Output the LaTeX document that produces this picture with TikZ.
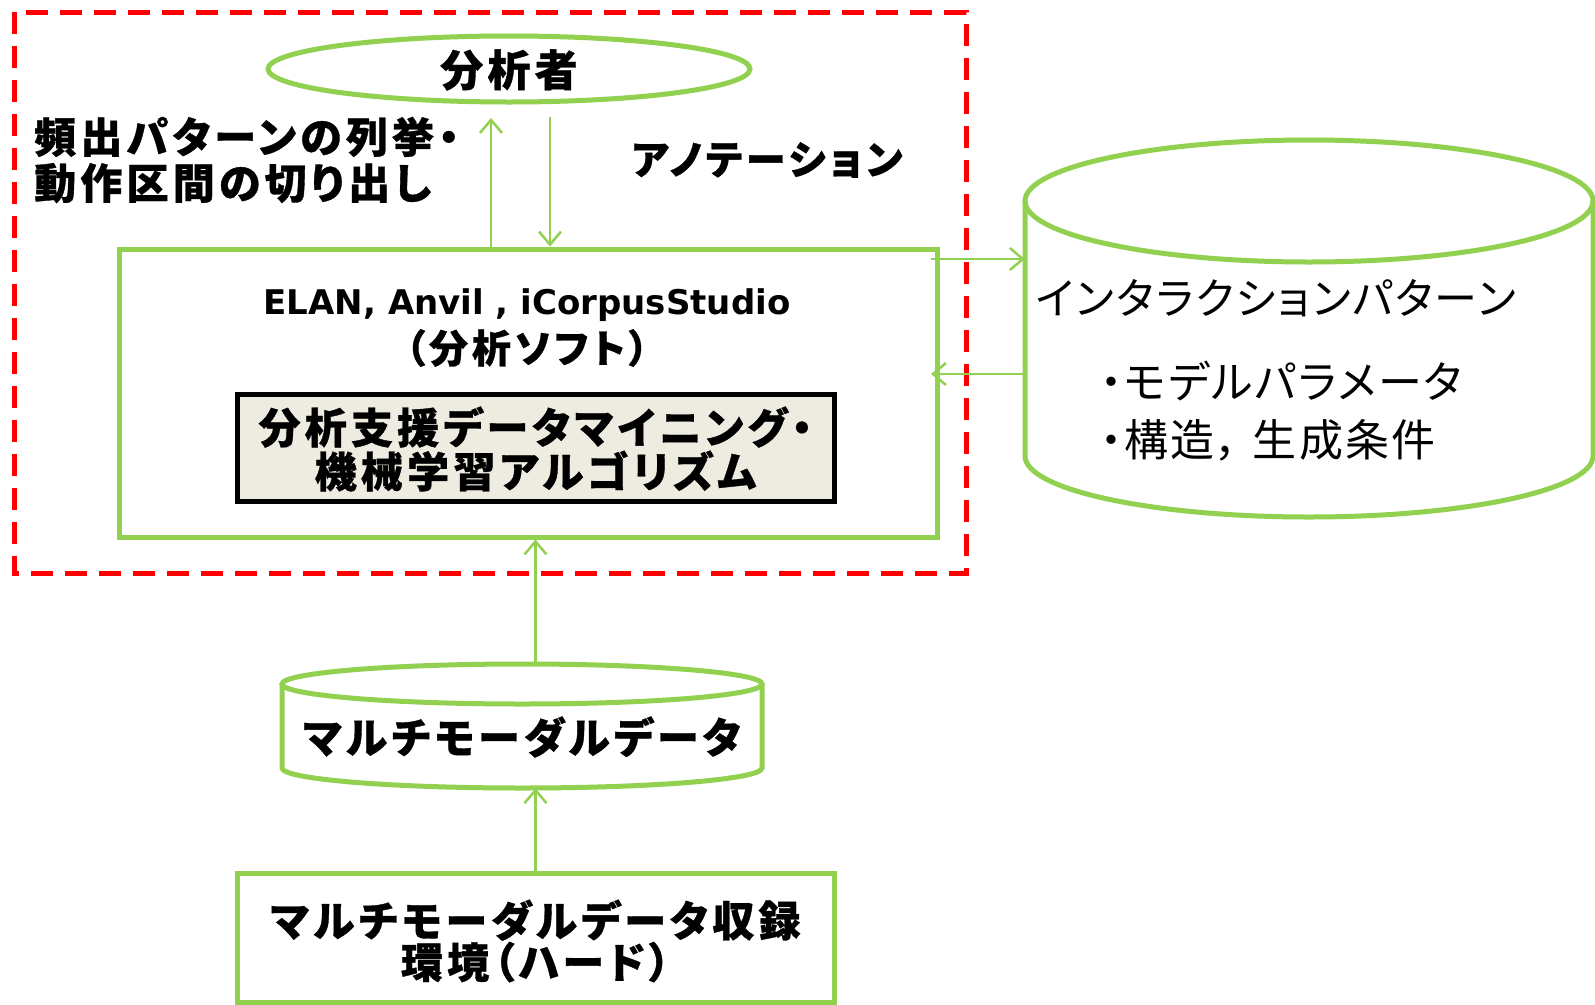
\documentclass[tikz,border=0pt]{standalone}
\usepackage{fontspec}
\newfontfamily\jp{Noto Sans CJK JP}[RawFeature=+palt, LetterSpace=5]
\newfontfamily\jpl{Noto Sans CJK JP}[RawFeature=+palt, LetterSpace=10, BoldFeatures={FakeBold=0.8}]
\newfontfamily\lat{DejaVu Sans}
\usetikzlibrary{arrows.meta,shapes.geometric}
\definecolor{grn}{HTML}{92D050}
\definecolor{beige}{HTML}{EEECE1}
\definecolor{dred}{HTML}{FF0000}
\tikzset{
  gbox/.style={draw=grn, line width=5pt, inner sep=0pt},
  conn/.style={draw=grn, line width=2.5pt, -{Straight Barb[length=13pt,width=22pt]}},
  btxt/.style={inner sep=0pt, align=center, text=black},
  ghost/.style={draw=none, inner sep=0pt},
}
\begin{document}
\begin{tikzpicture}[x=1pt,y=-1pt]
\useasboundingbox (0,0) rectangle (1595,1004);
\fill[white] (0,0) rectangle (1595,1004);

% red dashed frame
\draw[dred, line width=5pt, dash pattern=on 22pt off 12pt] (14,12) rectangle (966,573);

% analyst ellipse
\node[gbox, ellipse, minimum width=482pt, minimum height=66pt] (ana) at (509,69) {};
\node[btxt, font=\jpl\bfseries\fontsize{43}{46}\selectfont] (anat) at (509,70) {分析者};

% left label
\node[btxt, align=left, anchor=west, font=\jpl\bfseries\fontsize{42}{46}\selectfont] (lab1) at (34,160) {頻出パターンの列挙・\\動作区間の切り出し};
% annotation label
\node[btxt, font=\jpl\bfseries\fontsize{40}{40}\selectfont] (lab2) at (767,160) {アノテーション};

% main box
\node[gbox, minimum width=818pt, minimum height=288pt] (main) at (528,393) {};
\node[btxt, font=\lat\bfseries\fontsize{34}{38}\selectfont] (soft1) at (527,305) {ELAN, Anvil , iCorpusStudio};
\node[btxt, font=\jpl\bfseries\fontsize{39}{38}\selectfont] (soft2) at (527,348) {（分析ソフト）};

% algorithm box
\node[draw=black, fill=beige, line width=5pt, inner sep=0pt, minimum width=597pt, minimum height=107pt] (algo) at (535.5,447.5) {};
\node[btxt, font=\jpl\bfseries\fontsize{42}{44}\selectfont] (algot) at (535.5,449) {分析支援データマイニング・\\機械学習アルゴリズム};

% big cylinder (interaction patterns)
\node[ghost, minimum width=568pt, minimum height=378pt] (db) at (1309,328.5) {};
\draw[grn, line width=5pt] (1309,201) ellipse [x radius=284pt, y radius=61pt];
\draw[grn, line width=5pt] (1025,201) -- (1025,456) arc[start angle=180, end angle=360, x radius=284pt, y radius=61pt] -- (1593,201);
\node[btxt, anchor=west, font=\jp\fontsize{43}{46}\selectfont] (dbt) at (1036,298) {インタラクションパターン};
\node[btxt, anchor=west, font=\jp\fontsize{44}{46}\selectfont] (dbp1) at (1100,381) {・モデルパラメータ};
\node[btxt, anchor=west, font=\jp\fontsize{44}{46}\selectfont] (dbp2) at (1100,440) {・構造，\hspace{14pt}生成条件};

% small cylinder (multimodal data)
\node[ghost, minimum width=480pt, minimum height=126pt] (mm) at (522,725) {};
\draw[grn, line width=5pt] (522,684) ellipse [x radius=240pt, y radius=20pt];
\draw[grn, line width=5pt] (282,684) -- (282,768) arc[start angle=180, end angle=360, x radius=240pt, y radius=20pt] -- (762,684);
\node[btxt, font=\jpl\bfseries\fontsize{42}{46}\selectfont] (mmt) at (522,737) {マルチモーダルデータ};

% hardware box
\node[gbox, minimum width=597pt, minimum height=129pt] (hw) at (535.5,937.5) {};
\node[btxt, font=\jpl\bfseries\fontsize{42}{40}\selectfont] (hwt) at (535.5,941) {マルチモーダルデータ収録\\環境（ハード）};

% connectors
\coordinate (a1) at (491,118);
\coordinate (a2) at (550,117);
\coordinate (r1) at (931,259);
\coordinate (r2) at (931,374);
\draw[conn] (main.north -| a1) -- (a1);
\draw[conn] (a2) -- (main.north -| a2);
\draw[conn] (r1) -- (db.west |- r1);
\draw[conn] (db.west |- r2) -- (r2);
\draw[conn] (mm.north -| hw.north) -- (main.south -| hw.north);
\draw[conn] (hw.north) -- (mm.south -| hw.north);
\end{tikzpicture}
\end{document}
